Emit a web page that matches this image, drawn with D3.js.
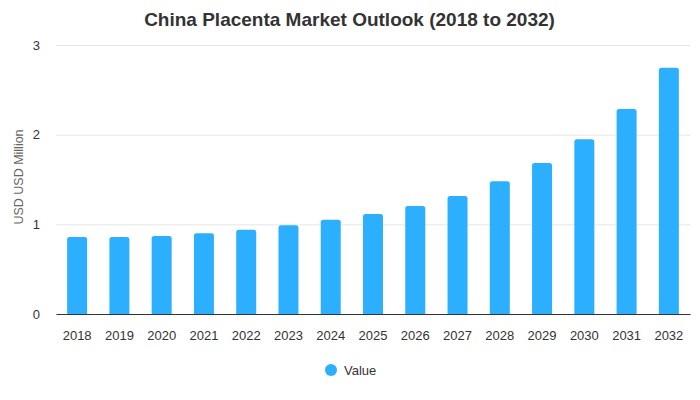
<!DOCTYPE html>
<html>
<head>
<meta charset="utf-8">
<script src="https://cdn.jsdelivr.net/npm/d3@7"></script>
<style>
  body { margin: 0; background: #fff; }
  text { font-family: "Liberation Sans", Arial, sans-serif; }
</style>
</head>
<body>
<div id="chart"></div>
<script>
var years = ["2018", "2019", "2020", "2021", "2022", "2023", "2024", "2025",
  "2026", "2027", "2028", "2029", "2030", "2031", "2032"];
var values = [0.86, 0.86, 0.87, 0.90, 0.94, 0.99, 1.05, 1.115,
  1.205, 1.315, 1.48, 1.685, 1.95, 2.285, 2.745];
var yTicks = [0, 1, 2, 3];

var svgWidth = 700;
var svgHeight = 400;

var margin = { top: 45, right: 10, bottom: 86, left: 56 };
var width = svgWidth - margin.left - margin.right;
var height = svgHeight - margin.top - margin.bottom;

var svg = d3.select("#chart")
  .append("svg")
  .attr("width", svgWidth)
  .attr("height", svgHeight);

svg.append("text")
  .attr("x", 349.5)
  .attr("y", 26)
  .attr("text-anchor", "middle")
  .attr("font-size", 19)
  .attr("font-weight", "bold")
  .attr("fill", "#333")
  .text("China Placenta Market Outlook (2018 to 2032)");

var chartGroup = svg.append("g")
  .attr("transform", `translate(${margin.left}, ${margin.top})`);

var x = d3.scaleBand()
  .domain(years)
  .range([0, width])
  .paddingInner(0.527)
  .paddingOuter(0.2635);

var y = d3.scaleLinear()
  .domain([0, 3])
  .range([height, 0]);

// gridlines
chartGroup.append("g")
  .call(d3.axisLeft(y).tickValues(yTicks).tickSize(-width).tickFormat(""))
  .call(g => g.select(".domain").remove())
  .call(g => g.selectAll("line").attr("stroke", "#e6e6e6"));

// y labels
chartGroup.append("g")
  .call(d3.axisLeft(y).tickValues(yTicks).tickSize(0).tickPadding(16).tickFormat(d3.format("d")))
  .call(g => g.select(".domain").remove())
  .call(g => g.selectAll("text").attr("font-size", 13).attr("fill", "#333")
    .attr("font-family", "Liberation Sans, Arial, sans-serif"));

// bars with rounded tops
var r = 2.5;
chartGroup.selectAll(".bar")
  .data(values)
  .enter()
  .append("path")
  .attr("class", "bar")
  .attr("fill", "#2caffe")
  .attr("d", function(d, i) {
    var x0 = x(years[i]), w = x.bandwidth(), y0 = y(d), b = y(0);
    return `M${x0},${b}V${y0 + r}Q${x0},${y0} ${x0 + r},${y0}H${x0 + w - r}Q${x0 + w},${y0} ${x0 + w},${y0 + r}V${b}Z`;
  });

// x axis
chartGroup.append("g")
  .attr("transform", `translate(0, ${height})`)
  .call(d3.axisBottom(x).tickSize(0).tickPadding(17))
  .call(g => g.select(".domain").attr("stroke", "#333"))
  .call(g => g.selectAll("text").attr("font-size", 13).attr("fill", "#333")
    .attr("font-family", "Liberation Sans, Arial, sans-serif"));

// y axis title
svg.append("text")
  .attr("transform", `translate(23, 177) rotate(-90)`)
  .attr("text-anchor", "middle")
  .attr("font-size", 12.5)
  .attr("fill", "#666")
  .text("USD USD Million");

// legend
var legend = svg.append("g").attr("transform", "translate(331, 370)");
legend.append("circle").attr("r", 6).attr("fill", "#2caffe");
legend.append("text")
  .attr("x", 13)
  .attr("y", 4.5)
  .attr("font-size", 13)
  .attr("fill", "#333")
  .text("Value");
</script>
</body>
</html>
